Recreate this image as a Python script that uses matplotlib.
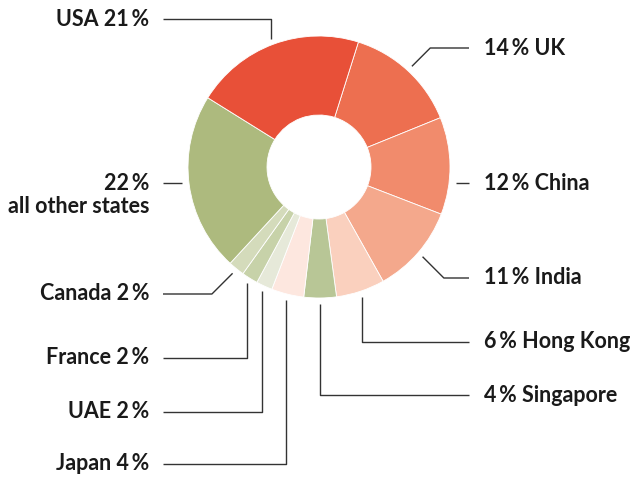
import numpy as np
import matplotlib.pyplot as plt

countries = ['UK', 'China', 'India', 'Hong Kong', 'Singapore', 'Japan', 'UAE',
             'France', 'Canada', 'all other states', 'USA']
shares = [14, 12, 11, 6, 4, 4, 2, 2, 2, 22, 21]
colors = ['#ED6F50', '#F18B6C', '#F4A88C', '#FAD0BE', '#B8C696', '#FDE7DF',
          '#E6E9D9', '#C7D2A9', '#D4DBBB', '#ADBA7E', '#E85038']
label_texts = ['14\u2009% UK', '12\u2009% China', '11\u2009% India', '6\u2009% Hong Kong',
               '4\u2009% Singapore', 'Japan 4\u2009%', 'UAE 2\u2009%', 'France 2\u2009%',
               'Canada 2\u2009%', '22\u2009%', 'USA 21\u2009%']

# layout (pixels, top-left origin): label y and leader style
label_y = [48, 183, 278, 342, 395, 464, 412, 358, 294, 183, 19]
leader = ['diag', 'h', 'diag', 'v', 'v', 'v', 'v', 'v', 'diag', 'h', 'v']
on_right = [True, True, True, True, True, False, False, False, False, False, False]

W, H = 639, 479
cx, cy, R, r_in = 319, 167, 131, 52
start_cw = 17.5  # degrees clockwise from top where UK begins

fig = plt.figure(figsize=(W / 100, H / 100), dpi=100)
ax = fig.add_axes([0, 0, 1, 1])

ax.pie(shares, colors=colors, startangle=90 - start_cw, counterclock=False,
       center=(cx, H - cy), radius=R,
       wedgeprops=dict(width=R - r_in, edgecolor='white', linewidth=0.6))
ax.set_xlim(0, W)
ax.set_ylim(0, H)
ax.set_aspect('equal')
ax.axis('off')

fam = ['Lato', 'DejaVu Sans']
txt_kw = dict(fontsize=15.5, fontweight='bold', color='#1a1a1a', family=fam, va='center')
line_kw = dict(color='#333333', lw=1.0, solid_capstyle='butt')

x_left_end, x_right_end = 163, 469
x_left_txt, x_right_txt = 149, 484

cum = np.cumsum([0] + shares)
for i, name in enumerate(countries):
    mid = start_cw + (cum[i] + shares[i] / 2) * 3.6
    a = np.deg2rad(mid)
    sx = cx + 137 * np.sin(a)
    sy = cy - 137 * np.cos(a)
    right = on_right[i]
    ly = label_y[i]
    xe = x_right_end if right else x_left_end
    if leader[i] == 'h':
        xs = cx + (R + 6) * (1 if right else -1)
        pts = [(xs, ly), (xe, ly)]
    elif leader[i] == 'v':
        pts = [(sx, sy), (sx, ly), (xe, ly)]
    else:
        d = abs(ly - sy)
        dx = d if (sx > cx) else -d
        pts = [(sx, sy), (sx + dx, ly), (xe, ly)]
    xs_, ys_ = zip(*pts)
    ax.plot(xs_, [H - y for y in ys_], **line_kw)
    if right:
        ax.text(x_right_txt, H - ly, label_texts[i], ha='left', **txt_kw)
    else:
        ax.text(x_left_txt, H - ly, label_texts[i], ha='right', **txt_kw)
        if name == 'all other states':
            ax.text(x_left_txt, H - ly - 23, name, ha='right', **txt_kw)

fig.savefig('out.png', dpi=100)
